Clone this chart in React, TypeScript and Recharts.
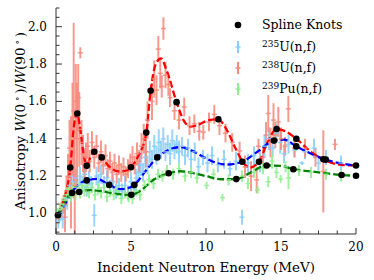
import React from "react";
import { ComposedChart, ErrorBar, Line, Scatter, XAxis, YAxis } from "recharts";

const FONT = "'DejaVu Serif', 'Liberation Serif', serif";
const AXIS = "#333";

const xTicks = [0, 1.25, 2.5, 3.75, 5, 6.25, 7.5, 8.75, 10, 11.25, 12.5, 13.75, 15, 16.25, 17.5, 18.75, 20];
const yTicks = [
  0.9, 0.95, 1.0, 1.05, 1.1, 1.15, 1.2, 1.25, 1.3, 1.35, 1.4, 1.45, 1.5, 1.55, 1.6, 1.65, 1.7, 1.75,
  1.8, 1.85, 1.9, 1.95, 2.0, 2.05, 2.1,
];

// [energy, anisotropy, error]
const u235Points = [
  [0.15, 0.96, 0.04], [0.3, 1.0, 0.04], [0.45, 0.97, 0.05], [0.6, 1.04, 0.05], [0.75, 1.08, 0.06],
  [0.9, 1.15, 0.05], [1.0, 1.2, 0.05], [1.15, 1.17, 0.04], [1.3, 1.19, 0.05], [1.45, 1.15, 0.04],
  [1.6, 1.2, 0.05], [1.75, 1.16, 0.04], [1.9, 1.21, 0.05], [2.05, 1.14, 0.05], [2.2, 1.19, 0.04],
  [2.35, 1.16, 0.04], [2.55, 0.99, 0.06], [2.7, 1.2, 0.05], [2.85, 1.17, 0.04], [3.0, 1.21, 0.05],
  [3.2, 1.16, 0.04], [3.4, 1.19, 0.04], [3.6, 1.14, 0.04], [3.8, 1.17, 0.04], [4.0, 1.12, 0.04],
  [4.2, 1.15, 0.04], [4.4, 1.12, 0.04], [4.6, 1.15, 0.05], [4.8, 1.11, 0.04], [5.0, 1.17, 0.05],
  [5.2, 1.13, 0.04], [5.35, 1.19, 0.05], [5.5, 1.22, 0.05], [5.65, 1.26, 0.06], [5.8, 1.22, 0.05],
  [5.95, 1.3, 0.06], [6.1, 1.26, 0.05], [6.25, 1.33, 0.06], [6.4, 1.29, 0.05], [6.55, 1.36, 0.06],
  [6.7, 1.31, 0.05], [6.85, 1.38, 0.07], [7.0, 1.34, 0.05], [7.15, 1.4, 0.06], [7.3, 1.33, 0.05],
  [7.45, 1.37, 0.05], [7.6, 1.32, 0.06], [7.75, 1.39, 0.06], [7.9, 1.34, 0.05], [8.05, 1.37, 0.05],
  [8.2, 1.33, 0.06], [8.4, 1.36, 0.05], [8.6, 1.31, 0.05], [8.8, 1.35, 0.05], [9.0, 1.29, 0.05],
  [9.25, 1.33, 0.05], [9.5, 1.25, 0.05], [9.8, 1.3, 0.04], [10.1, 1.27, 0.05], [10.4, 1.31, 0.05],
  [10.8, 1.26, 0.04], [11.2, 1.29, 0.05], [11.6, 1.24, 0.04], [12.0, 1.28, 0.05], [12.4, 0.98, 0.04],
  [12.8, 1.27, 0.05], [13.2, 1.31, 0.05], [13.6, 1.28, 0.06], [13.9, 1.36, 0.06], [14.2, 1.4, 0.06],
  [14.45, 1.35, 0.05], [14.7, 1.43, 0.05], [14.95, 1.38, 0.06], [15.2, 1.32, 0.05], [15.5, 1.37, 0.05],
  [15.9, 1.34, 0.04], [16.4, 1.27, 0.01], [16.6, 1.33, 0.04], [17.2, 1.35, 0.05], [17.5, 1.27, 0.04],
  [18.0, 1.3, 0.04], [19.0, 1.27, 0.04],
];

const u238Points = [
  [0.2, 0.98, 0.03], [0.35, 1.02, 0.04], [0.5, 1.05, 0.05], [0.6, 0.98, 0.08], [0.7, 1.12, 0.08],
  [0.8, 1.2, 0.12], [0.9, 1.35, 0.15], [1.0, 1.22, 0.3], [1.1, 1.45, 0.25], [1.18, 1.55, 0.47],
  [1.25, 1.15, 0.26], [1.32, 1.6, 0.2], [1.4, 1.4, 0.3], [1.48, 1.62, 0.18], [1.55, 1.45, 0.2],
  [1.62, 1.86, 0.03], [1.7, 1.38, 0.12], [1.8, 1.32, 0.1], [1.9, 1.27, 0.08], [2.0, 1.3, 0.08],
  [2.12, 1.36, 0.07], [2.25, 1.28, 0.06], [2.4, 1.38, 0.06], [2.55, 1.3, 0.06], [2.7, 1.36, 0.06],
  [2.85, 1.27, 0.05], [3.0, 1.33, 0.06], [3.15, 1.26, 0.05], [3.3, 1.31, 0.06], [3.45, 1.24, 0.05],
  [3.6, 1.28, 0.05], [3.75, 1.22, 0.05], [3.9, 1.27, 0.05], [4.05, 1.21, 0.05], [4.2, 1.26, 0.05],
  [4.35, 1.22, 0.05], [4.5, 1.25, 0.05], [4.65, 1.21, 0.04], [4.8, 1.24, 0.05], [4.95, 1.27, 0.05],
  [5.1, 1.3, 0.06], [5.25, 1.26, 0.05], [5.4, 1.32, 0.06], [5.55, 1.28, 0.06], [5.7, 1.36, 0.07],
  [5.85, 1.4, 0.08], [6.0, 1.33, 0.08], [6.1, 1.5, 0.1], [6.4, 1.6, 0.1], [6.55, 1.72, 0.1],
  [6.7, 1.66, 0.08], [6.82, 1.88, 0.07], [6.95, 1.75, 0.08], [7.05, 1.68, 0.06], [7.16, 1.99, 0.06],
  [7.3, 1.74, 0.07], [7.49, 1.69, 0.06], [7.6, 1.62, 0.05], [7.9, 1.55, 0.05], [8.2, 1.5, 0.05],
  [8.55, 1.57, 0.05], [8.9, 1.47, 0.05], [9.22, 1.48, 0.05], [9.55, 1.44, 0.05], [9.82, 1.435, 0.04],
  [10.2, 1.49, 0.05], [10.55, 1.53, 0.05], [10.9, 1.47, 0.05], [11.3, 1.43, 0.05], [11.75, 1.38, 0.05],
  [12.24, 1.335, 0.05], [12.6, 1.25, 0.06], [13.0, 1.2, 0.08], [13.38, 1.18, 0.07], [13.5, 1.36, 0.04],
  [13.8, 1.3, 0.06], [14.0, 1.42, 0.07], [14.15, 1.535, 0.1], [14.3, 1.38, 0.08], [14.5, 1.5, 0.09],
  [14.62, 1.42, 0.07], [14.82, 1.49, 0.08], [15.0, 1.4, 0.06], [15.27, 1.36, 0.05], [15.49, 1.56, 0.07],
  [15.9, 1.35, 0.05], [16.6, 1.35, 0.05], [17.3, 1.3, 0.05], [17.82, 1.225, 0.22], [18.6, 1.37, 0.03],
];

const pu239Points = [
  [0.1, 1.0, 0.03], [0.25, 1.02, 0.03], [0.4, 1.05, 0.03], [0.55, 1.07, 0.03], [0.7, 1.1, 0.03],
  [0.85, 1.13, 0.03], [1.0, 1.09, 0.03], [1.15, 1.14, 0.03], [1.3, 1.1, 0.03], [1.45, 1.14, 0.03],
  [1.6, 1.11, 0.03], [1.75, 1.15, 0.03], [1.9, 1.12, 0.03], [2.05, 1.15, 0.03], [2.2, 1.11, 0.03],
  [2.4, 1.14, 0.03], [2.6, 1.1, 0.03], [2.8, 1.13, 0.03], [3.0, 1.11, 0.03], [3.2, 1.14, 0.03],
  [3.4, 1.09, 0.03], [3.6, 1.12, 0.03], [3.85, 1.1, 0.03], [4.1, 1.12, 0.03], [4.35, 1.08, 0.03],
  [4.6, 1.11, 0.03], [4.85, 1.09, 0.03], [5.1, 1.08, 0.03], [5.35, 1.12, 0.03], [5.6, 1.1, 0.03],
  [5.9, 1.15, 0.03], [6.2, 1.18, 0.03], [6.5, 1.16, 0.03], [6.8, 1.21, 0.03], [7.1, 1.2, 0.03],
  [7.4, 1.23, 0.03], [7.8, 1.21, 0.03], [8.2, 1.24, 0.03], [8.6, 1.2, 0.03], [9.0, 1.22, 0.03],
  [9.4, 1.19, 0.03], [10.04, 1.15, 0.02], [10.5, 1.21, 0.03], [11.1, 1.085, 0.02], [11.5, 1.18, 0.03],
  [12.4, 1.2, 0.03], [12.8, 1.16, 0.03], [13.2, 1.22, 0.03], [13.44, 1.126, 0.02], [13.8, 1.24, 0.03],
  [14.15, 1.17, 0.03], [14.4, 1.28, 0.04], [14.7, 1.22, 0.03], [14.98, 1.185, 0.02], [15.3, 1.25, 0.03],
  [15.5, 1.19, 0.06], [16.2, 1.23, 0.03], [17.0, 1.22, 0.03], [18.0, 1.21, 0.03], [19.0, 1.2, 0.03],
];

// fitted curves
const u238Fit = [
  [0.1, 0.99], [0.5, 1.07], [0.95, 1.246], [1.2, 1.47], [1.4, 1.54], [1.6, 1.46], [1.85, 1.31],
  [2.05, 1.26], [2.3, 1.3], [2.55, 1.33], [3.05, 1.3], [3.5, 1.255], [4.2, 1.225], [4.7, 1.23],
  [5.0, 1.247], [5.5, 1.31], [6.02, 1.433], [6.31, 1.657], [6.65, 1.8], [7.0, 1.83], [7.4, 1.76],
  [8.04, 1.596], [8.5, 1.5], [9.0, 1.465], [9.5, 1.475], [10.2, 1.5], [10.8, 1.504], [11.3, 1.46],
  [11.9, 1.36], [12.42, 1.28], [12.9, 1.245], [13.53, 1.277], [14.1, 1.38], [14.71, 1.452],
  [15.3, 1.44], [16.02, 1.4], [17.0, 1.33], [17.82, 1.29], [19.0, 1.26], [20.0, 1.257],
];

const u235Fit = [
  [0.1, 0.99], [0.6, 1.05], [1.2, 1.13], [2.05, 1.177], [2.7, 1.185], [3.55, 1.153], [4.3, 1.13],
  [4.8, 1.135], [5.22, 1.153], [6.0, 1.23], [6.75, 1.3], [7.5, 1.34], [8.3, 1.355], [9.1, 1.335],
  [9.9, 1.3], [10.7, 1.27], [11.4, 1.262], [12.42, 1.277], [13.5, 1.335], [14.53, 1.39], [15.2, 1.395],
  [16.02, 1.359], [17.0, 1.32], [17.98, 1.288], [19.0, 1.268], [20.0, 1.257],
];

const pu239Fit = [
  [0.1, 0.99], [0.5, 1.05], [1.07, 1.11], [1.55, 1.115], [2.2, 1.125], [3.0, 1.12], [4.0, 1.105],
  [5.02, 1.1], [5.6, 1.12], [6.5, 1.18], [7.51, 1.215], [8.3, 1.226], [9.2, 1.215], [10.0, 1.2],
  [11.0, 1.183], [12.02, 1.184], [13.0, 1.22], [14.04, 1.257], [15.0, 1.255], [15.82, 1.237],
  [17.0, 1.225], [18.0, 1.215], [19.04, 1.206], [20.0, 1.202],
];

const splineKnots = [
  [0.13, 0.99], [0.95, 1.246], [1.07, 1.11], [1.42, 1.535], [1.55, 1.115], [2.05, 1.255], [2.05, 1.177],
  [2.55, 1.33], [3.05, 1.3], [3.55, 1.153], [5.0, 1.247], [5.02, 1.1], [5.22, 1.153], [6.02, 1.433],
  [6.31, 1.657], [6.75, 1.3], [7.51, 1.215], [8.04, 1.596], [10.82, 1.504], [12.02, 1.184],
  [12.42, 1.277], [13.53, 1.277], [14.04, 1.257], [14.53, 1.39], [14.71, 1.452], [15.82, 1.237],
  [16.02, 1.4], [16.02, 1.359], [17.82, 1.29], [17.98, 1.288], [19.04, 1.206], [20.0, 1.257],
  [20.0, 1.202],
];

const toPts = (rows: number[][]) => rows.map(([x, y, e]) => ({ x, y, e }));

const SERIES = [
  { name: "235", color: "#87cefa", data: toPts(u235Points) },
  { name: "238", color: "#f7877a", data: toPts(u238Points) },
  { name: "239", color: "#90ee90", data: toPts(pu239Points) },
];

const FITS = [
  { color: "#ff0000", data: toPts(u238Fit) },
  { color: "#0000ff", data: toPts(u235Fit) },
  { color: "#008000", data: toPts(pu239Fit) },
];

const isMajor = (v: number, step: number) => Math.abs(v / step - Math.round(v / step)) < 1e-6;

function BottomTick(props: any) {
  const { x, y, payload } = props;
  const major = isMajor(payload.value, 5);
  return (
    <g>
      <line x1={x} x2={x} y1={y} y2={y - (major ? 6 : 3.5)} stroke={AXIS} />
      {major && (
        <text x={x} y={y + 17} textAnchor="middle" fontFamily={FONT} fontSize={12} fill="#000">
          {payload.value}
        </text>
      )}
    </g>
  );
}

function TopTick(props: any) {
  const { x, y, payload } = props;
  const major = isMajor(payload.value, 5);
  return <line x1={x} x2={x} y1={y} y2={y + (major ? 6 : 3.5)} stroke={AXIS} />;
}

function LeftTick(props: any) {
  const { x, y, payload } = props;
  const major = isMajor(payload.value, 0.2);
  return (
    <g>
      <line x1={x} x2={x + (major ? 6 : 3.5)} y1={y} y2={y} stroke={AXIS} />
      {major && (
        <text x={x - 9} y={y + 4} textAnchor="end" fontFamily={FONT} fontSize={12} fill="#000">
          {payload.value.toFixed(1)}
        </text>
      )}
    </g>
  );
}

function RightTick(props: any) {
  const { x, y, payload } = props;
  const major = isMajor(payload.value, 0.2);
  return <line x1={x} x2={x - (major ? 6 : 3.5)} y1={y} y2={y} stroke={AXIS} />;
}

const dashMarker = (color: string) => (p: any) =>
  <line x1={p.cx - 2.5} x2={p.cx + 2.5} y1={p.cy} y2={p.cy} stroke={color} strokeWidth={1.5} strokeOpacity={0.85} />;

const knotMarker = (p: any) => <circle cx={p.cx} cy={p.cy} r={3.3} fill="#000" />;

function LegendMark({ y, color }: { y: number; color: string }) {
  return (
    <g stroke={color} strokeWidth={2}>
      <line x1={238} x2={238} y1={y - 6} y2={y + 6} />
      <line x1={235.5} x2={240.5} y1={y} y2={y} strokeWidth={1.5} />
    </g>
  );
}

function Iso({ x, y, mass, label }: { x: number; y: number; mass: string; label: string }) {
  return (
    <text x={x} y={y} fontFamily={FONT} fontSize={12.5} fill="#000">
      <tspan fontSize={9} dy={-4.5}>{mass}</tspan>
      <tspan dy={4.5}>{label}</tspan>
    </text>
  );
}

export default function App() {
  return (
    <div style={{ position: "absolute", left: 0, top: 0, width: 374, height: 280, background: "#fff" }}>
      <ComposedChart width={374} height={280} margin={{ top: 8, right: 18, bottom: 0, left: 0 }}>
        <XAxis
          dataKey="x"
          type="number"
          domain={[0, 20]}
          ticks={xTicks}
          interval={0}
          height={46}
          tickSize={0}
          tickMargin={0}
          tickLine={false}
          tick={<BottomTick />}
          axisLine={{ stroke: AXIS }}
        />
        <XAxis
          xAxisId="top"
          orientation="top"
          type="number"
          domain={[0, 20]}
          ticks={xTicks}
          interval={0}
          height={0}
          tickSize={0}
          tickMargin={0}
          tickLine={false}
          tick={<TopTick />}
          axisLine={{ stroke: AXIS }}
        />
        <YAxis
          dataKey="y"
          type="number"
          domain={[0.9, 2.1]}
          ticks={yTicks}
          interval={0}
          width={56}
          tickSize={0}
          tickMargin={0}
          tickLine={false}
          tick={<LeftTick />}
          axisLine={{ stroke: AXIS }}
        />
        <YAxis
          yAxisId="right"
          orientation="right"
          type="number"
          domain={[0.9, 2.1]}
          ticks={yTicks}
          interval={0}
          width={0}
          tickSize={0}
          tickMargin={0}
          tickLine={false}
          tick={<RightTick />}
          axisLine={{ stroke: AXIS }}
        />
        {SERIES.map((s) => (
          <Scatter key={s.name} data={s.data} dataKey="y" shape={dashMarker(s.color)} isAnimationActive={false}>
            <ErrorBar dataKey="e" direction="y" width={0} stroke={s.color} strokeWidth={2} strokeOpacity={0.85} isAnimationActive={false} />
          </Scatter>
        ))}
        {FITS.map((f) => (
          <Line
            key={f.color}
            data={f.data}
            dataKey="y"
            type="monotone"
            stroke={f.color}
            strokeWidth={2.3}
            strokeDasharray="7 3"
            dot={false}
            activeDot={false}
            isAnimationActive={false}
          />
        ))}
        <Scatter data={toPts(splineKnots)} dataKey="y" shape={knotMarker} isAnimationActive={false} />
      </ComposedChart>
      <svg width={374} height={280} style={{ position: "absolute", left: 0, top: 0, pointerEvents: "none" }}>
        <text
          transform="translate(25 121) rotate(-90)"
          textAnchor="middle"
          fontFamily={FONT}
          fontSize={13.5}
          fill="#000"
        >
          Anisotropy <tspan fontStyle="italic">W</tspan>(0<tspan fontSize={9} dy={-5}> ∘ </tspan>
          <tspan dy={5}>)/</tspan>
          <tspan fontStyle="italic">W</tspan>(90<tspan fontSize={9} dy={-5}> ∘ </tspan>
          <tspan dy={5}>)</tspan>
        </text>
        <text x={206} y={272} textAnchor="middle" fontFamily={FONT} fontSize={13.5} fill="#000">
          Incident Neutron Energy (MeV)
        </text>
        <circle cx={238} cy={25} r={3.3} fill="#000" />
        <text x={262} y={29} fontFamily={FONT} fontSize={12.5} fill="#000">Spline Knots</text>
        <LegendMark y={47} color={SERIES[0].color} />
        <Iso x={262} y={51} mass="235" label="U(n,f)" />
        <LegendMark y={68} color={SERIES[1].color} />
        <Iso x={262} y={72} mass="238" label="U(n,f)" />
        <LegendMark y={89} color={SERIES[2].color} />
        <Iso x={262} y={93} mass="239" label="Pu(n,f)" />
      </svg>
    </div>
  );
}
